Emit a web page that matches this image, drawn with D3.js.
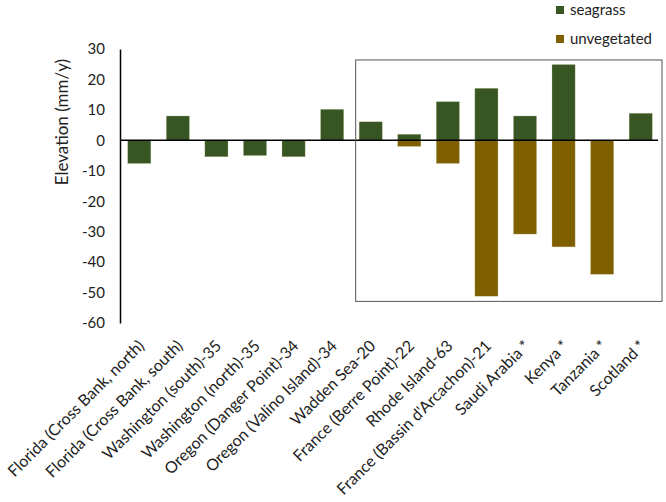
<!DOCTYPE html>
<html><head><meta charset="utf-8">
<script src="https://cdn.jsdelivr.net/npm/d3@7"></script>
<style>body{margin:0;background:#fff}svg{display:block}text{font-family:Lato,"Open Sans",sans-serif;fill:#222}</style>
</head><body><svg id="c" width="666" height="502"></svg>
<script>
const categories = ["Florida (Cross Bank, north)","Florida (Cross Bank, south)","Washington (south)-35","Washington (north)-35","Oregon (Danger Point)-34","Oregon (Valino Island)-34","Wadden Sea-20","France (Berre Point)-22","Rhode Island-63","France (Bassin d'Arcachon)-21","Saudi Arabia *","Kenya *","Tanzania *","Scotland *"];
const seagrass    = [-7.6, 8.0, -5.4, -5.0, -5.4, 10.2, 6.1, 2.0, 12.7, 17.1, 8.0, 24.9, null, 8.9];
const unvegetated = [null, null, null, null, null, null, null, -2.0, -7.6, -51.2, -30.8, -35.0, -44.0, null];
const yTicks = [30,20,10,0,-10,-20,-30,-40,-50,-60];
const seriesNames = ["seagrass","unvegetated"];
const seriesColors = ["#375623","#7f6000"];
const boxFirstCategory = "Wadden Sea-20";
const boxValueRange = [26.4, -52.9];

const svg = d3.select("#c");
const x = d3.scaleBand().domain(categories).range([120,660]).paddingInner(0.4).paddingOuter(0.2);
const y = d3.scaleLinear().domain([-60,30]).range([323,49]);

// y axis
const ya = svg.append("g").attr("transform","translate(120,0)")
  .call(d3.axisLeft(y).tickValues(yTicks).tickSize(0).tickPadding(15).tickFormat(d=>String(d)));
ya.select(".domain").attr("stroke","#000").attr("stroke-width",1.5);
ya.selectAll("text").style("font-size","15px").attr("fill","#222").style("font-family","Lato");

svg.append("text").attr("transform",`translate(62,${y(6)}) rotate(-90)`)
  .attr("text-anchor","middle").attr("dy","0.35em").style("font-size","17px").text("Elevation (mm/y)");

// bars
const rows = [seagrass, unvegetated];
rows.forEach((vals,si)=>{
  svg.append("g").selectAll("rect").data(categories.map((c,i)=>({c,v:vals[i]})).filter(d=>d.v!=null))
    .join("rect")
    .attr("x",d=>x(d.c)).attr("width",x.bandwidth())
    .attr("y",d=>Math.min(y(d.v),y(0))).attr("height",d=>Math.abs(y(d.v)-y(0)))
    .attr("fill",seriesColors[si]).attr("stroke","#c8c8a0").attr("stroke-width",0.5).attr("stroke-opacity",0.6);
});

// zero line
svg.append("line").attr("x1",120).attr("x2",x.range()[1]-2).attr("y1",y(0)).attr("y2",y(0))
  .attr("stroke","#000").attr("stroke-width",1.5);

// annotation box
const bx0 = x(boxFirstCategory) - x.step()*0.09;
const bx1 = x.range()[1] + 2;
svg.append("rect").attr("x",bx0).attr("y",y(boxValueRange[0]))
  .attr("width",bx1-bx0).attr("height",y(boxValueRange[1])-y(boxValueRange[0]))
  .attr("fill","none").attr("stroke","#555").attr("stroke-width",1);

// x labels
svg.append("g").selectAll("text").data(categories).join("text")
  .attr("transform",d=>`translate(${x(d)+x.bandwidth()/2+2},343) rotate(-45)`)
  .attr("text-anchor","end").attr("dy","0.35em").style("font-size","16px").text(d=>d);

// legend
const lg = svg.append("g");
seriesNames.forEach((n,i)=>{
  lg.append("rect").attr("x",556).attr("y",6+i*29).attr("width",8).attr("height",8).attr("fill",seriesColors[i]);
  lg.append("text").attr("x",570).attr("y",15+i*29).style("font-size","15px").text(n);
});
</script></body></html>
